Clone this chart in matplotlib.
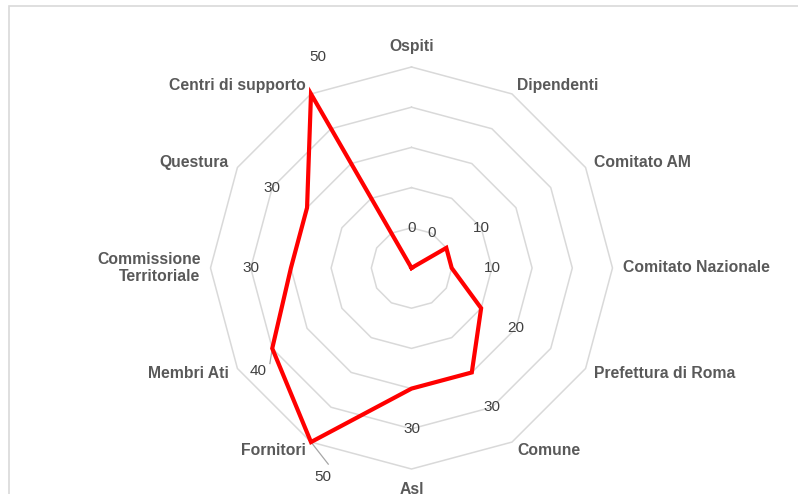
import numpy as np
import matplotlib
matplotlib.use("Agg")
import matplotlib.pyplot as plt
from matplotlib.patches import Rectangle

# categorie (in senso orario partendo dall'alto)
categorie = ['Ospiti', 'Dipendenti', 'Comitato AM', 'Comitato Nazionale',
             'Prefettura di Roma', 'Comune', 'Asl', 'Fornitori', 'Membri Ati',
             'Commissione\nTerritoriale', 'Questura', 'Centri di supporto']
valori = [0, 0, 10, 10, 20, 30, 30, 50, 40, 30, 30, 50]
anelli = [10, 20, 30, 40, 50]

plt.rcParams['font.family'] = ['Liberation Sans', 'DejaVu Sans']

W, H = 798, 494
fig = plt.figure(figsize=(W / 100, H / 100), dpi=100)

# cornice esterna grigia
fig.patches.append(Rectangle((8.5 / W, -0.1), 1.2, 1.1 - 6.5 / H,
                             transform=fig.transFigure, fill=False,
                             edgecolor='#D9D9D9', linewidth=1.2))

cx, cy, rad = 411.5, 268, 201
ax = fig.add_axes([(cx - rad) / W, (H - cy - rad) / H, 2 * rad / W, 2 * rad / H],
                  projection='polar')
ax.set_theta_zero_location('N')
ax.set_theta_direction(-1)
ax.set_ylim(0, 50)
ax.grid(False)
ax.set_xticks([])
ax.set_yticks([])
ax.spines['polar'].set_visible(False)
ax.patch.set_alpha(0)

n = len(categorie)
angoli = np.linspace(0, 2 * np.pi, n, endpoint=False)
chiuso = np.append(angoli, angoli[0])

# griglia poligonale
for r in anelli:
    ax.plot(chiuso, [r] * (n + 1), color='#D9D9D9', linewidth=1.1,
            clip_on=False, zorder=1)

# serie
ax.plot(chiuso, valori + [valori[0]], color='#FF0000', linewidth=3,
        solid_joinstyle='miter', zorder=3, clip_on=False)

# etichette categorie
for ang, nome in zip(angoli, categorie):
    deg = np.degrees(ang)
    if deg == 0 or deg == 180:
        ha, r = 'center', 55
    elif deg < 180:
        ha, r = 'left', 52.5
    else:
        ha, r = 'right', 52.5
    ax.text(ang, r, nome, ha=ha, va='center', fontsize=11.3, fontweight='bold',
            color='#595959', linespacing=1.2, clip_on=False)

# etichette dati (alcune spostate con linea guida)
spostate = {7: (np.radians(203), 56.5), 8: (np.radians(236), 46),
            11: (np.radians(336), 57.5)}
for i, (ang, v) in enumerate(zip(angoli, valori)):
    a, r = spostate.get(i, (ang, v + 10))
    ax.text(a, r, str(v), ha='center', va='center', fontsize=11,
            color='#404040', clip_on=False)
    if i in (7, 8):
        ax.plot([ang, a], [v, r - 3.5], color='#A6A6A6', linewidth=0.9,
                zorder=2, clip_on=False)

fig.savefig('out.png', dpi=100, facecolor='white')
